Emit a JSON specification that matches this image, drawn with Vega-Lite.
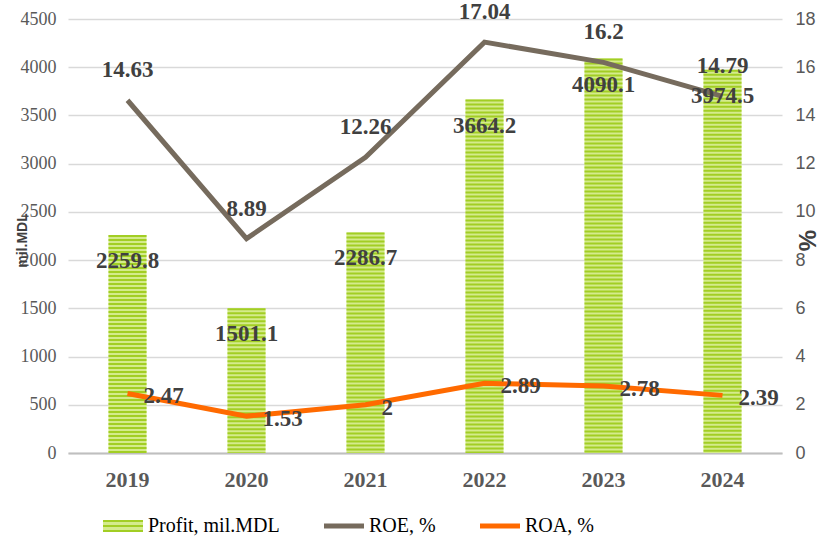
{
  "$schema": "https://vega.github.io/schema/vega-lite/v6.json",
  "width": 714,
  "height": 434,
  "autosize": {"type": "none"},
  "padding": {"left": 68, "top": 19, "right": 43, "bottom": 87},
  "background": "white",
  "datasets": {
    "profit": [
      {"year": "2019", "profit": 2259.8},
      {"year": "2020", "profit": 1501.1},
      {"year": "2021", "profit": 2286.7},
      {"year": "2022", "profit": 3664.2},
      {"year": "2023", "profit": 4090.1},
      {"year": "2024", "profit": 3974.5}
    ],
    "ratios": [
      {"year": "2019", "metric": "ROE, %", "value": 14.63},
      {"year": "2020", "metric": "ROE, %", "value": 8.89},
      {"year": "2021", "metric": "ROE, %", "value": 12.26},
      {"year": "2022", "metric": "ROE, %", "value": 17.04},
      {"year": "2023", "metric": "ROE, %", "value": 16.2},
      {"year": "2024", "metric": "ROE, %", "value": 14.79},
      {"year": "2019", "metric": "ROA, %", "value": 2.47},
      {"year": "2020", "metric": "ROA, %", "value": 1.53},
      {"year": "2021", "metric": "ROA, %", "value": 2},
      {"year": "2022", "metric": "ROA, %", "value": 2.89},
      {"year": "2023", "metric": "ROA, %", "value": 2.78},
      {"year": "2024", "metric": "ROA, %", "value": 2.39}
    ]
  },
  "encoding": {
    "x": {
      "field": "year",
      "type": "ordinal",
      "scale": {"paddingInner": 0.68, "paddingOuter": 0.34},
      "axis": {
        "title": null,
        "labelAngle": 0,
        "labelFont": "Liberation Serif",
        "labelFontWeight": "bold",
        "labelFontSize": 22,
        "labelColor": "#595959",
        "labelPadding": 16,
        "ticks": false,
        "domainColor": "#bfbfbf",
        "domainWidth": 2,
        "grid": false
      }
    }
  },
  "layer": [
    {
      "data": {"name": "profit"},
      "encoding": {
        "y": {
          "field": "profit",
          "type": "quantitative",
          "scale": {"domain": [0, 4500], "nice": false},
          "axis": {
            "values": [0, 500, 1000, 1500, 2000, 2500, 3000, 3500, 4000, 4500],
            "format": "d",
            "title": "mil.MDL",
            "titleFont": "Liberation Sans",
            "titleFontSize": 14,
            "titleFontWeight": "bold",
            "titleColor": "#404040",
            "titleX": -46,
            "titleY": 221,
            "titleBaseline": "middle",
            "labelFont": "Liberation Serif",
            "labelFontSize": 18,
            "labelColor": "#595959",
            "labelPadding": 12,
            "ticks": false,
            "domain": false,
            "grid": true,
            "gridColor": "#d9d9d9",
            "gridWidth": 1.5
          }
        }
      },
      "layer": [
        {"mark": {"type": "bar", "fill": "#d4eb8c"}},
        {
          "mark": {"type": "rule", "stroke": "#a2ce24", "strokeWidth": 38, "strokeDash": [2, 2], "strokeCap": "butt"},
          "encoding": {"y2": {"datum": 0}}
        }
      ]
    },
    {
      "data": {"name": "ratios"},
      "encoding": {
        "y": {
          "field": "value",
          "type": "quantitative",
          "scale": {"domain": [0, 18], "nice": false},
          "axis": {
            "orient": "right",
            "values": [0, 2, 4, 6, 8, 10, 12, 14, 16, 18],
            "title": "%",
            "titleFont": "Liberation Sans",
            "titleFontSize": 24,
            "titleFontWeight": "bold",
            "titleColor": "#404040",
            "titleAngle": -90,
            "titleX": 26,
            "titleY": 221,
            "titleBaseline": "middle",
            "labelFont": "Liberation Sans",
            "labelFontSize": 18,
            "labelColor": "#595959",
            "labelPadding": 13,
            "ticks": false,
            "domain": false,
            "grid": false
          }
        }
      },
      "layer": [
        {
          "mark": {"type": "line", "strokeWidth": 5},
          "encoding": {
            "color": {
              "field": "metric",
              "type": "nominal",
              "scale": {
                "domain": ["Profit, mil.MDL", "ROE, %", "ROA, %"],
                "range": ["#a6d22c", "#766b5d", "#ff6a00"]
              },
              "legend": {
                "orient": "none",
                "legendX": 35,
                "legendY": 487,
                "direction": "horizontal",
                "title": null,
                "padding": 0,
                "labelFont": "Liberation Serif",
                "labelFontSize": 20,
                "labelColor": "#000000",
                "labelOffset": 5,
                "columnPadding": 44,
                "symbolSize": 1600,
                "symbolType": "M-1,-0.125H1V0.125H-1Z",
                "symbolStrokeWidth": 0,
                "encode": {
                  "symbols": {
                    "update": {
                      "shape": [
                        {"test": "datum.value === 'Profit, mil.MDL'", "value": "M-1,-0.3H1V0.3H-1Z"},
                        {"value": "M-1,-0.125H1V0.125H-1Z"}
                      ],
                      "fill": [
                        {
                          "test": "datum.value === 'Profit, mil.MDL'",
                          "value": {
                            "gradient": "linear", "x1": 0, "y1": 0, "x2": 0, "y2": 1,
                            "stops": [
                              {"offset": 0, "color": "#a2ce24"},
                              {"offset": 0.2, "color": "#a2ce24"},
                              {"offset": 0.2, "color": "#d4eb8c"},
                              {"offset": 0.4, "color": "#d4eb8c"},
                              {"offset": 0.4, "color": "#a2ce24"},
                              {"offset": 0.6, "color": "#a2ce24"},
                              {"offset": 0.6, "color": "#d4eb8c"},
                              {"offset": 0.8, "color": "#d4eb8c"},
                              {"offset": 0.8, "color": "#a2ce24"},
                              {"offset": 1, "color": "#a2ce24"}
                            ]
                          }
                        },
                        {"scale": "color", "field": "value"}
                      ],
                      "strokeWidth": {"value": 0},
                      "opacity": {"value": 1}
                    }
                  }
                }
              }
            }
          }
        },
        {
          "transform": [{"filter": "datum.metric === 'ROE, %'"}],
          "mark": {"type": "text", "dy": -30, "font": "Liberation Serif", "fontWeight": "bold", "fontSize": 23, "fill": "#404040", "baseline": "middle"},
          "encoding": {"text": {"field": "value", "type": "quantitative", "format": ".2~f"}}
        },
        {
          "transform": [{"filter": "datum.metric === 'ROA, %'"}],
          "mark": {"type": "text", "dx": 16, "dy": 3, "align": "left", "font": "Liberation Serif", "fontWeight": "bold", "fontSize": 23, "fill": "#404040", "baseline": "middle"},
          "encoding": {"text": {"field": "value", "type": "quantitative", "format": ".2~f"}}
        }
      ]
    },
    {
      "data": {"name": "profit"},
      "mark": {"type": "text", "dy": 26, "font": "Liberation Serif", "fontWeight": "bold", "fontSize": 23, "fill": "#404040", "baseline": "middle"},
      "encoding": {
        "y": {"field": "profit", "type": "quantitative", "scale": {"domain": [0, 4500], "nice": false}, "axis": null},
        "text": {"field": "profit", "type": "quantitative", "format": ".1~f"}
      }
    }
  ],
  "resolve": {"scale": {"y": "independent"}},
  "config": {
    "view": {"stroke": null},
    "font": "Liberation Serif"
  }
}
